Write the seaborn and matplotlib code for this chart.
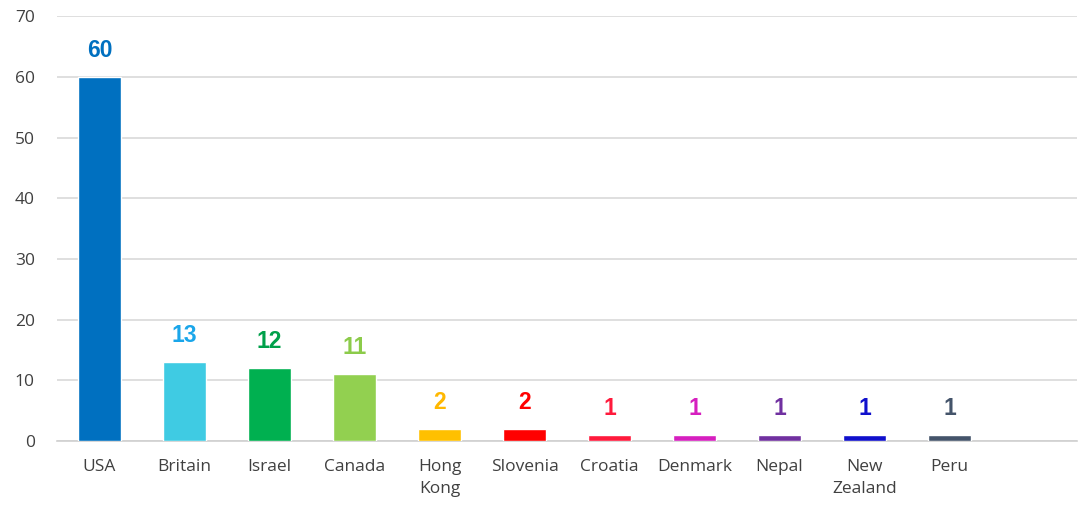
import pandas as pd
import matplotlib
matplotlib.use('Agg')
import matplotlib.pyplot as plt
import seaborn as sns

# Data
countries = ['USA', 'Britain', 'Israel', 'Canada', 'Hong\nKong', 'Slovenia',
             'Croatia', 'Denmark', 'Nepal', 'New\nZealand', 'Peru']
counts = [60, 13, 12, 11, 2, 2, 1, 1, 1, 1, 1]
bar_colors = ['#0070C0', '#3FCBE3', '#00B050', '#92D050', '#FFC000', '#FF0000',
              '#FF1A3C', '#D61FBF', '#7030A0', '#1010CC', '#44546A']
label_colors = ['#0070C0', '#1AA6EA', '#00A04A', '#8CCB4A', '#FFB800', '#FF0000',
                '#FF1A3C', '#D61FBF', '#7030A0', '#1010CC', '#44546A']

df = pd.DataFrame({'country': countries, 'count': counts})

sns.set_style('white')
plt.rcParams['font.family'] = ['Open Sans', 'DejaVu Sans']

fig = plt.figure(figsize=(10.84, 5.07), dpi=100)
ax = fig.add_axes([0.0526, 0.130, 0.9409, 0.838])

sns.barplot(data=df, x='country', y='count', hue='country',
            palette=dict(zip(countries, bar_colors)), legend=False,
            width=0.5, saturation=1, ax=ax, zorder=3)

ax.set_xlim(-0.5, 11.5)
ax.set_ylim(0, 70)
ax.set_yticks(range(0, 71, 10))
ax.yaxis.grid(True, color='#D9D9D9', linewidth=1.2, zorder=0)
ax.set_axisbelow(True)
for side in ['top', 'right', 'left']:
    ax.spines[side].set_visible(False)
ax.spines['bottom'].set_color('#D0D0D0')
ax.spines['bottom'].set_linewidth(1.2)
ax.set_xlabel('')
ax.set_ylabel('')
ax.tick_params(axis='both', length=0, labelsize=12.5, colors='#404040')
ax.tick_params(axis='y', pad=16)
ax.tick_params(axis='x', pad=13)
for lab in ax.get_xticklabels():
    lab.set_linespacing(1.45)
    lab.set_verticalalignment('top')

# value labels
for i, v in enumerate(counts):
    ax.annotate(str(v), (i, v), xytext=(0, 11), textcoords='offset points',
                ha='center', va='bottom', fontsize=16.5, fontweight='bold',
                color=label_colors[i], family='Liberation Sans')

plt.savefig('out.png', dpi=100)
plt.close()
